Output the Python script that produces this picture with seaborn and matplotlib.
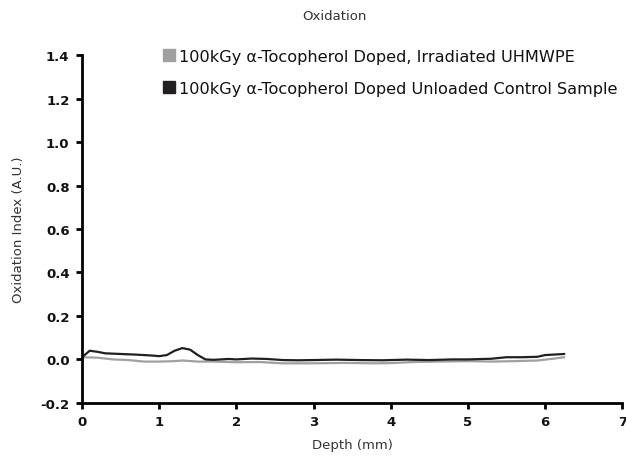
import matplotlib
matplotlib.use("Agg")
import matplotlib.pyplot as plt
from matplotlib.lines import Line2D
import seaborn as sns
import pandas as pd

# Data
depth_irr = [0.0, 0.2, 0.4, 0.6, 0.8, 1.0, 1.2, 1.3, 1.5, 1.7, 2.0, 2.3, 2.6, 3.0,
             3.4, 3.8, 4.0, 4.3, 4.6, 5.0, 5.3, 5.6, 5.9, 6.1, 6.25]
oxi_irr = [0.01, 0.008, 0.0, -0.003, -0.01, -0.01, -0.008, -0.005, -0.01, -0.01,
           -0.013, -0.012, -0.018, -0.018, -0.016, -0.018, -0.017, -0.012, -0.01,
           -0.008, -0.01, -0.008, -0.005, 0.003, 0.01]

depth_ctrl = [0.0, 0.1, 0.2, 0.3, 0.5, 0.7, 0.9, 1.0, 1.1, 1.2, 1.3, 1.4, 1.5, 1.6,
              1.7, 1.9, 2.0, 2.2, 2.4, 2.6, 2.8, 3.0, 3.3, 3.6, 3.9, 4.2, 4.5, 4.8,
              5.0, 5.3, 5.5, 5.7, 5.9, 6.0, 6.25]
oxi_ctrl = [0.01, 0.04, 0.035, 0.028, 0.025, 0.022, 0.018, 0.015, 0.02, 0.04, 0.052,
            0.045, 0.02, 0.0, -0.002, 0.002, 0.0, 0.004, 0.002, -0.003, -0.004, -0.003,
            -0.001, -0.003, -0.004, -0.001, -0.003, 0.0, 0.0, 0.003, 0.01, 0.01, 0.012,
            0.02, 0.025]

labels = ["100kGy \u03b1-Tocopherol Doped, Irradiated UHMWPE",
          "100kGy \u03b1-Tocopherol Doped Unloaded Control Sample"]
colors = ["#a0a0a0", "#231f20"]

df = pd.concat([
    pd.DataFrame({"Depth": depth_irr, "Oxidation": oxi_irr, "Sample": labels[0]}),
    pd.DataFrame({"Depth": depth_ctrl, "Oxidation": oxi_ctrl, "Sample": labels[1]}),
])

sns.set_style("ticks")
plt.rcParams["font.family"] = ["DejaVu Sans"]

fig = plt.figure(figsize=(6.26, 4.6), dpi=100)
ax = fig.add_axes([0.131, 0.122, 0.863, 0.756])

sns.lineplot(data=df, x="Depth", y="Oxidation", hue="Sample",
             palette=dict(zip(labels, colors)), linewidth=1.6, ax=ax, legend=False)

ax.set_xlim(0, 7)
ax.set_ylim(-0.2, 1.4)
ax.set_xticks(range(0, 8))
ax.set_yticks([-0.2, 0.0, 0.2, 0.4, 0.6, 0.8, 1.0, 1.2, 1.4])
ax.set_yticklabels(["-0.2", "0.0", "0.2", "0.4", "0.6", "0.8", "1.0", "1.2", "1.4"])
ax.tick_params(axis="both", labelsize=9.5, width=2, length=4, color="black", pad=5)
for t in ax.get_xticklabels() + ax.get_yticklabels():
    t.set_fontweight("bold")
    t.set_color("#111111")
ax.set_xlabel("Depth (mm)", fontsize=9.5, color="#333333", labelpad=7)
ax.set_ylabel("Oxidation Index (A.U.)", fontsize=9.5, color="#333333", labelpad=11)
for s in ["left", "bottom"]:
    ax.spines[s].set_linewidth(2)
    ax.spines[s].set_color("black")
sns.despine(ax=ax)

fig.text(0.534, 0.965, "Oxidation", ha="center", va="center", fontsize=9.5,
         color="#333333")

handles = [Line2D([], [], marker="s", linestyle="none", markersize=8,
                  markerfacecolor=c, markeredgecolor=c) for c in colors]
ax.legend(handles, labels, loc="upper left", bbox_to_anchor=(0.12, 1.06),
          frameon=False, fontsize=11.6, handletextpad=0.1, labelspacing=1.05,
          handlelength=1.0, labelcolor="#111111")

fig.savefig("out.png", dpi=100)
